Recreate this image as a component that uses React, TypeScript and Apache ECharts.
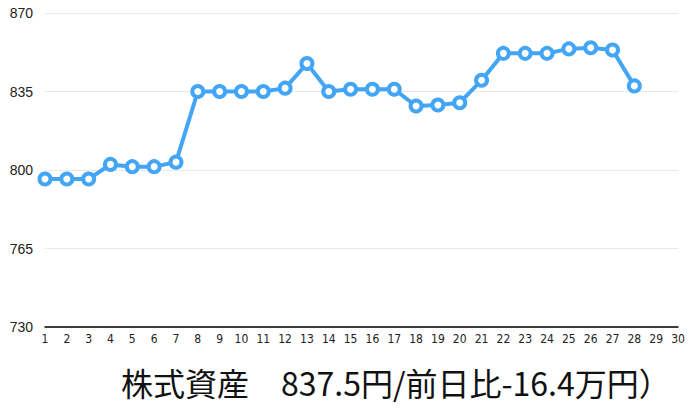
import { useEffect, useRef } from 'react'
import * as echarts from 'echarts'

// 日付（1〜30日）
const days = Array.from({ length: 30 }, (_, i) => String(i + 1))

// 株式資産（万円）: 29日・30日は未記録
const assetValues: (number | null)[] = [
    796, 796, 796, 802.5, 801.5, 801.5, 803.5,
    835, 835, 835, 835, 836.5, 847.5, 835,
    836, 836, 836, 828.5, 829, 830, 840,
    852, 852, 852, 854, 854.5, 853.5, 837.5,
    null, null
]

const yMin = 730
const yMax = 870
const yStep = 35

const titleText = '株式資産　837.5円/前日比-16.4万円）'

const lineColor = '#42a5f5'

export default function App() {
    const chartRef = useRef<HTMLDivElement>(null)

    useEffect(() => {
        if (!chartRef.current) return
        const chart = echarts.init(chartRef.current, undefined, { renderer: 'svg' })

        chart.setOption({
            animation: false,
            backgroundColor: '#ffffff',
            title: {
                text: titleText,
                left: 121,
                top: 366,
                padding: 0,
                textStyle: {
                    fontFamily: '"Noto Sans CJK JP", sans-serif',
                    fontSize: 32,
                    fontWeight: 'normal',
                    color: '#111'
                }
            },
            grid: { left: 45, right: 18, top: 13, bottom: 83, containLabel: false },
            xAxis: {
                type: 'category',
                data: days,
                boundaryGap: false,
                axisLine: { show: true, lineStyle: { color: '#000', width: 1.5 } },
                axisTick: { show: false },
                axisLabel: {
                    interval: 0,
                    margin: 6,
                    fontSize: 12,
                    color: '#222',
                    fontFamily: '"Liberation Sans Narrow", "DejaVu Sans Condensed", sans-serif'
                },
                splitLine: { show: false }
            },
            yAxis: {
                type: 'value',
                min: yMin,
                max: yMax,
                interval: yStep,
                axisLine: { show: false },
                axisTick: { show: false },
                axisLabel: {
                    margin: 12,
                    fontSize: 14,
                    color: '#222',
                    fontFamily: '"Liberation Sans", sans-serif'
                },
                splitLine: { show: true, lineStyle: { color: '#e8e8e8', width: 1 } }
            },
            series: [
                {
                    type: 'line',
                    data: assetValues,
                    symbol: 'circle',
                    symbolSize: 11,
                    showAllSymbol: true,
                    lineStyle: { color: lineColor, width: 4 },
                    itemStyle: { color: '#ffffff', borderColor: lineColor, borderWidth: 4 },
                    z: 3
                }
            ]
        })

        return () => {
            chart.dispose()
        }
    }, [])

    return (
        <div
            ref={chartRef}
            style={{ position: 'fixed', left: 0, top: 0, width: 696, height: 410 }}
        />
    )
}
